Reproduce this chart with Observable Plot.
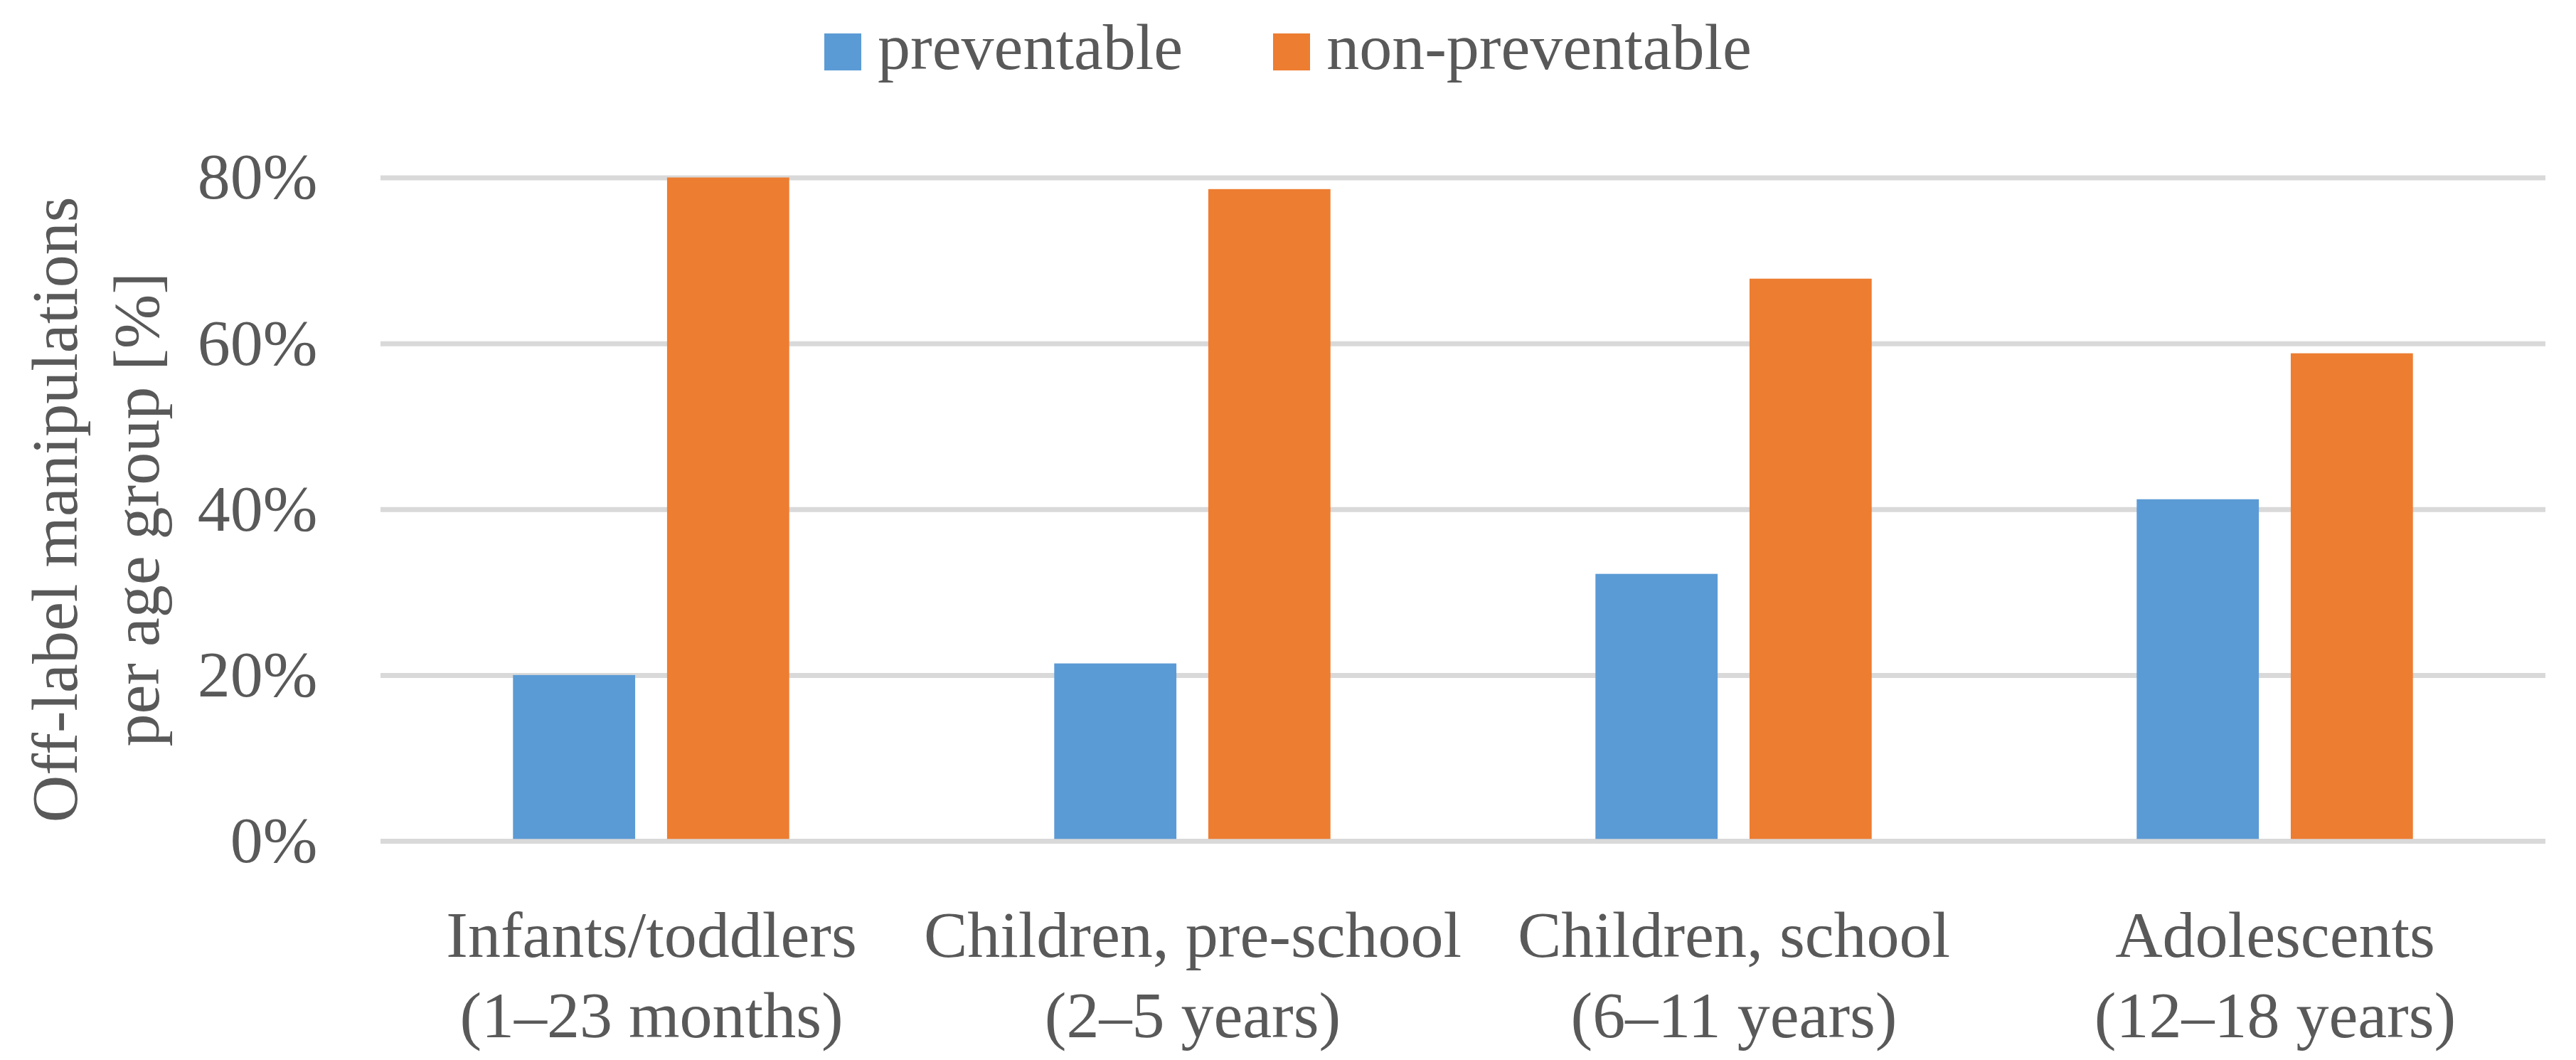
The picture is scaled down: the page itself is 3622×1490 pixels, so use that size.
<!DOCTYPE html>
<html>
<head>
<meta charset="utf-8">
<script src="https://cdn.jsdelivr.net/npm/d3@7"></script>
<script src="https://cdn.jsdelivr.net/npm/@observablehq/plot@0.6"></script>
<style>
  html, body { margin: 0; padding: 0; background: #ffffff; }
  body { width: 3622px; height: 1490px; overflow: hidden; font-family: "Liberation Serif", serif; color: #595959; }
  #legend { height: 160px; box-sizing: border-box; padding-top: 47px; display: flex; justify-content: center; align-items: flex-start; }
  .item { display: flex; align-items: flex-start; }
  .item + .item { margin-left: 127px; }
  .sw { width: 52px; height: 52px; margin-right: 23px; }
  .lab { font-size: 92px; line-height: 52px; position: relative; top: -7px; white-space: nowrap; }
  #chart svg { display: block; }
</style>
</head>
<body>
<div id="legend"></div>
<div id="chart"></div>
<script>
// ---- data ----
const categories = [
  "Infants/toddlers\n(1–23 months)",
  "Children, pre-school\n(2–5 years)",
  "Children, school\n(6–11 years)",
  "Adolescents\n(12–18 years)"
];
const series = ["preventable", "non-preventable"];
const preventable = [20.0, 21.4, 32.2, 41.2];
const nonPreventable = [80.0, 78.6, 67.8, 58.8];
const yTicks = [0, 20, 40, 60, 80];
const colors = ["#5b9bd5", "#ed7d31"];
const yLabel = "Off-label manipulations\nper age group [%]";

// table for the library
const data = [];
categories.forEach((c, i) => {
  data.push({group: c, series: series[0], value: preventable[i]});
  data.push({group: c, series: series[1], value: nonPreventable[i]});
});

// ---- legend (HTML, above the SVG) ----
const legend = document.getElementById("legend");
series.forEach((s, i) => {
  const item = document.createElement("div");
  item.className = "item";
  const sw = document.createElement("div");
  sw.className = "sw";
  sw.style.background = colors[i];
  const lab = document.createElement("span");
  lab.className = "lab";
  lab.textContent = s;
  item.appendChild(sw);
  item.appendChild(lab);
  legend.appendChild(item);
});

// ---- chart ----
const chart = Plot.plot({
  width: 3622,
  height: 1330,
  marginLeft: 533,
  marginRight: 42,
  marginTop: 89.5,
  marginBottom: 308,
  style: {fontFamily: "'Liberation Serif', serif", fontSize: "92px", color: "#595959", background: "#ffffff", overflow: "visible"},
  fx: {domain: categories, padding: 0, label: null},
  x: {domain: series, paddingInner: 0.207, paddingOuter: 0.86, axis: null, round: false},
  y: {domain: [0, 80], axis: null},
  color: {domain: series, range: colors},
  marks: [
    Plot.ruleY(yTicks, {stroke: "#d9d9d9", strokeWidth: 7}),
    Plot.barY(data, {fx: "group", x: "series", y: "value", fill: "series"}),
    Plot.ruleY([0], {stroke: "#d9d9d9", strokeWidth: 6.5}),
    Plot.axisY({ticks: yTicks, tickSize: 0, tickPadding: 89, tickFormat: d => `${d}%`, label: null}),
    Plot.axisFx({anchor: "bottom", tickSize: 0, tickPadding: 82, lineHeight: 1.23, label: null}),
    Plot.text([yLabel], {frameAnchor: "left", facetAnchor: "left", rotate: -90, dx: -407, lineHeight: 1.25, textAnchor: "middle", lineAnchor: "middle", fill: "#595959"})
  ]
});
document.getElementById("chart").appendChild(chart);
</script>
</body>
</html>
